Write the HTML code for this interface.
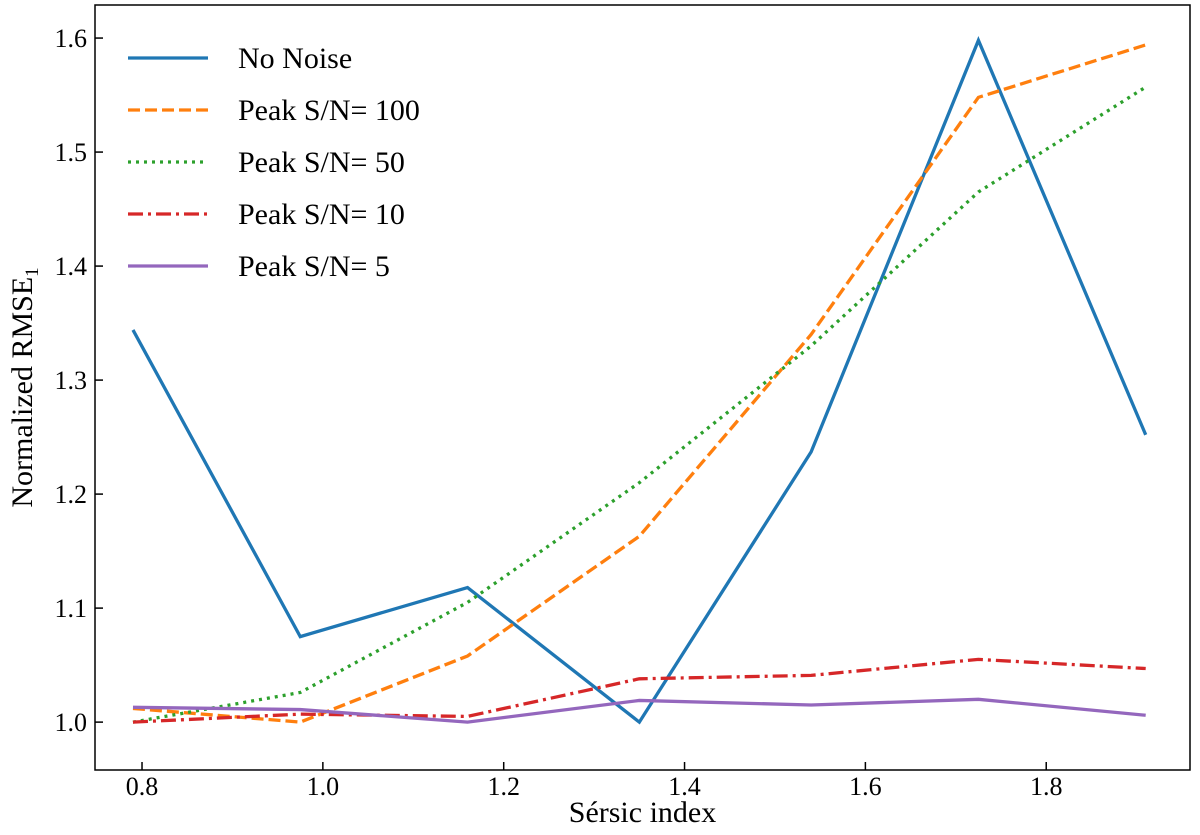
<!DOCTYPE html>
<html><head><meta charset="utf-8"><style>
body{margin:0;background:#fff}
svg text{font-family:"Liberation Serif",serif;fill:#000}
</style></head><body>
<svg id="chart" width="1200" height="830" xmlns="http://www.w3.org/2000/svg">
<g id="plot"></g>
</svg>
<script>
const xValues=[0.79,0.975,1.16,1.35,1.54,1.725,1.91];
const noNoise=[1.344,1.075,1.118,1.0,1.237,1.598,1.252];
const sn100=[1.012,1.0,1.058,1.163,1.34,1.548,1.594];
const sn50=[1.0,1.026,1.105,1.21,1.33,1.465,1.557];
const sn10=[1.0,1.007,1.005,1.038,1.041,1.055,1.047];
const sn5=[1.013,1.011,1.0,1.019,1.015,1.02,1.006];
const xTicks=[0.8,1.0,1.2,1.4,1.6,1.8];
const yTicks=[1.0,1.1,1.2,1.3,1.4,1.5,1.6];
const seriesNames=["No Noise","Peak S/N= 100","Peak S/N= 50","Peak S/N= 10","Peak S/N= 5"];

const L=95,R=1190,T=5,B=770;
const X0=0.748,X1=1.959,Y0=0.958,Y1=1.629;
const sx=v=>L+(v-X0)/(X1-X0)*(R-L);
const sy=v=>B-(v-Y0)/(Y1-Y0)*(B-T);
const NS="http://www.w3.org/2000/svg";
const g=document.getElementById('plot');
function mk(t,a,p){const e=document.createElementNS(NS,t);for(const k in a)e.setAttribute(k,a[k]);(p||g).appendChild(e);return e;}

const styles=[
 {c:"#1f77b4",d:""},
 {c:"#ff7f0e",d:"12,5"},
 {c:"#2ca02c",d:"3,5"},
 {c:"#d62728",d:"15,5,3,5"},
 {c:"#9467bd",d:""}];
const data=[noNoise,sn100,sn50,sn10,sn5];
data.forEach((s,i)=>{
 const p=mk('path',{d:s.map((v,j)=>(j?'L':'M')+sx(xValues[j])+','+sy(v)).join(''),fill:'none',stroke:styles[i].c,'stroke-width':3.3,'stroke-dasharray':styles[i].d});
 
 
});
const frame=mk('rect',{x:L,y:T,width:R-L,height:B-T,fill:'none',stroke:'#000','stroke-width':1.5});


xTicks.forEach(v=>{
 const x=sx(v);
 mk('line',{x1:x,x2:x,y1:B,y2:B-8,stroke:'#000','stroke-width':1.5});
 const t=mk('text',{x:x,y:B+25,'text-anchor':'middle','font-size':26});
 t.textContent=v.toFixed(1);
 
 
});
yTicks.forEach(v=>{
 const y=sy(v);
 mk('line',{x1:L,x2:L+8,y1:y,y2:y,stroke:'#000','stroke-width':1.5});
 const t=mk('text',{x:L-8,y:y+9,'text-anchor':'end','font-size':26});
 t.textContent=v.toFixed(1);
 
 
});
const xt=mk('text',{x:(L+R)/2,y:822,'text-anchor':'middle','font-size':30});
xt.textContent='Sérsic index';


const yt=mk('text',{x:0,y:0,'text-anchor':'middle','font-size':30,transform:'translate(32,'+((T+B)/2)+') rotate(-90)'});
yt.innerHTML='Normalized RMSE<tspan font-size="19" dy="6">1</tspan>';


seriesNames.forEach((n,i)=>{
 const y=58+i*52;
 mk('line',{x1:128,x2:208,y1:y,y2:y,stroke:styles[i].c,'stroke-width':3.3,'stroke-dasharray':styles[i].d});
 const t=mk('text',{x:238,y:y+10,'font-size':30});
 t.textContent=n;
 
 
});
</script>
</body></html>
